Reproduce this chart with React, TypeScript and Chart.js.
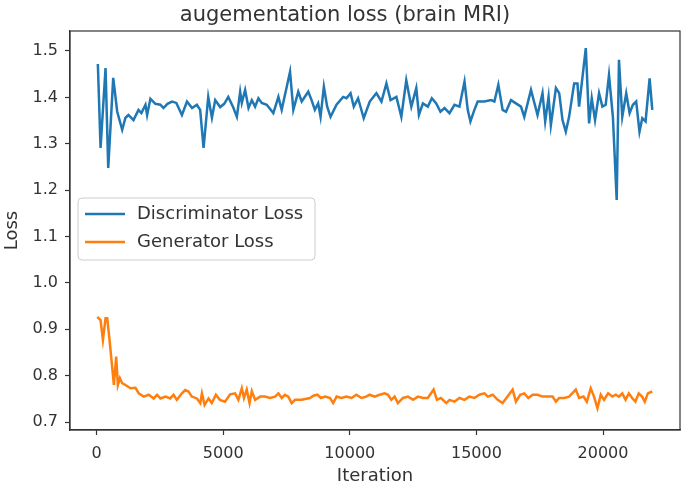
import React, { useEffect, useRef } from "react";
import { Chart, registerables } from "chart.js";

Chart.register(...registerables);

const titleText = "augementation loss (brain MRI)";
const xLabel = "Iteration";
const yLabel = "Loss";
const seriesNames = ["Discriminator Loss", "Generator Loss"];
const xTicks = [0, 5000, 10000, 15000, 20000];
const yTicks = [0.7, 0.8, 0.9, 1.0, 1.1, 1.2, 1.3, 1.4, 1.5];

const discIter = [
  50, 157, 354, 460, 657, 815, 1012, 1140, 1260, 1457, 1654, 1770, 1930, 1995, 2126, 2320, 2520, 2640, 2800, 2980,
  3150, 3370, 3570, 3770, 3960, 4090, 4225, 4410, 4555, 4685, 4880, 5040, 5200, 5390, 5540, 5670, 5735, 5866, 6000, 6130,
  6260, 6390, 6523, 6720, 6980, 7180, 7310, 7640, 7770, 7965, 8100, 8360, 8490, 8620, 8750, 8845, 8976, 9106, 9240, 9475,
  9737, 9870, 10030, 10157, 10327, 10550, 10787, 11050, 11250, 11445, 11610, 11840, 12035, 12230, 12430, 12625, 12730, 12886, 13083, 13240,
  13413, 13580, 13740, 13937, 14134, 14330, 14530, 14657, 14763, 14920, 15050, 15315, 15580, 15710, 15866, 16035, 16170, 16365, 16562, 16760,
  16890, 17155, 17413, 17610, 17716, 17850, 17940, 18140, 18270, 18400, 18530, 18660, 18860, 18990, 19055, 19320, 19450, 19555, 19685, 19843,
  19975, 20105, 20236, 20390, 20540, 20630, 20760, 20917, 21050, 21180, 21310, 21440, 21550, 21680, 21840, 21945,
];
const discLoss = [
  1.472, 1.291, 1.463, 1.248, 1.442, 1.369, 1.33, 1.356, 1.362, 1.351, 1.373, 1.366, 1.384, 1.362, 1.397, 1.386, 1.384, 1.377, 1.386, 1.391,
  1.388, 1.362, 1.391, 1.377, 1.384, 1.373, 1.291, 1.401, 1.356, 1.394, 1.379, 1.386, 1.401, 1.379, 1.358, 1.412, 1.388, 1.416, 1.377, 1.394,
  1.38, 1.398, 1.388, 1.384, 1.366, 1.401, 1.373, 1.455, 1.373, 1.412, 1.391, 1.412, 1.394, 1.373, 1.387, 1.358, 1.423, 1.38, 1.358, 1.384,
  1.401, 1.398, 1.409, 1.38, 1.398, 1.355, 1.391, 1.409, 1.391, 1.43, 1.394, 1.401, 1.358, 1.437, 1.38, 1.42, 1.362, 1.387, 1.38, 1.398,
  1.387, 1.369, 1.377, 1.366, 1.384, 1.38, 1.434, 1.373, 1.348, 1.373, 1.391, 1.391, 1.394, 1.391, 1.427, 1.373, 1.369, 1.394, 1.387, 1.38,
  1.358, 1.416, 1.362, 1.409, 1.348, 1.401, 1.34, 1.42, 1.409, 1.351, 1.326, 1.358, 1.43, 1.43, 1.38, 1.506, 1.344, 1.398, 1.351, 1.409,
  1.38, 1.384, 1.448, 1.358, 1.179, 1.481, 1.358, 1.409, 1.366, 1.384, 1.391, 1.326, 1.355, 1.348, 1.441, 1.373,
];

const genIter = [
  27, 157, 250, 354, 420, 512, 683, 775, 840, 920, 1010, 1140, 1340, 1535, 1665, 1860, 2060, 2255, 2390, 2520,
  2720, 2910, 3040, 3170, 3370, 3500, 3630, 3760, 3960, 4095, 4160, 4265, 4420, 4550, 4710, 4870, 5070, 5275, 5470, 5600,
  5735, 5820, 5930, 6040, 6130, 6260, 6460, 6650, 6850, 7050, 7180, 7310, 7440, 7570, 7705, 7840, 8100, 8430, 8560, 8720,
  8860, 9030, 9220, 9345, 9480, 9670, 9870, 10070, 10260, 10460, 10650, 10785, 10980, 11180, 11375, 11510, 11640, 11770, 11900, 12100,
  12300, 12500, 12690, 12890, 13080, 13310, 13440, 13600, 13810, 13940, 14130, 14330, 14530, 14720, 14920, 15115, 15320, 15450, 15645, 15840,
  16035, 16230, 16430, 16560, 16730, 16890, 17050, 17220, 17415, 17610, 17810, 18010, 18140, 18270, 18470, 18660, 18925, 19055, 19230, 19360,
  19515, 19645, 19780, 19910, 20040, 20200, 20370, 20500, 20630, 20760, 20890, 21020, 21150, 21280, 21410, 21540, 21650, 21770, 21945,
];
const genLoss = [
  0.927, 0.92, 0.877, 0.924, 0.924, 0.877, 0.78, 0.841, 0.78, 0.795, 0.784, 0.78, 0.773, 0.774, 0.762, 0.755, 0.759, 0.751, 0.759, 0.751,
  0.755, 0.751, 0.759, 0.748, 0.762, 0.769, 0.766, 0.755, 0.751, 0.741, 0.762, 0.737, 0.751, 0.741, 0.759, 0.748, 0.744, 0.76, 0.762, 0.748,
  0.773, 0.752, 0.77, 0.741, 0.767, 0.748, 0.755, 0.755, 0.752, 0.755, 0.762, 0.752, 0.759, 0.755, 0.741, 0.748, 0.748, 0.752, 0.757, 0.759,
  0.752, 0.755, 0.752, 0.741, 0.755, 0.752, 0.755, 0.752, 0.759, 0.752, 0.755, 0.759, 0.755, 0.759, 0.762, 0.759, 0.748, 0.755, 0.741, 0.752,
  0.755, 0.748, 0.755, 0.752, 0.752, 0.77, 0.748, 0.752, 0.741, 0.748, 0.744, 0.752, 0.748, 0.755, 0.752, 0.759, 0.762, 0.755, 0.759, 0.748,
  0.741, 0.755, 0.77, 0.744, 0.759, 0.762, 0.752, 0.759, 0.759, 0.755, 0.755, 0.755, 0.744, 0.752, 0.752, 0.755, 0.77, 0.752, 0.755, 0.744,
  0.773, 0.755, 0.73, 0.759, 0.748, 0.762, 0.755, 0.759, 0.755, 0.762, 0.748, 0.762, 0.752, 0.744, 0.762, 0.755, 0.744, 0.762, 0.766,
];

const colors = ["#1f77b4", "#ff7f0e"];
const FONT = "'DejaVu Sans', sans-serif";
const TEXT = "#333333";

const framePlugin = {
  id: "frameAndLegend",
  afterDraw(chart: any) {
    const { ctx, chartArea } = chart;
    const { left, top, right, bottom } = chartArea;
    ctx.save();
    // spines
    ctx.strokeStyle = "#333333";
    ctx.lineWidth = 1.2;
    ctx.strokeRect(left, top, right - left, bottom - top);
    // title
    ctx.fillStyle = TEXT;
    ctx.font = `21px ${FONT}`;
    ctx.textAlign = "center";
    ctx.textBaseline = "alphabetic";
    ctx.fillText(titleText, 345, 21);
    // legend
    const bx = left + 8;
    const by = 198;
    const bw = 237;
    const bh = 62;
    ctx.beginPath();
    const r = 4;
    ctx.moveTo(bx + r, by);
    ctx.lineTo(bx + bw - r, by);
    ctx.quadraticCurveTo(bx + bw, by, bx + bw, by + r);
    ctx.lineTo(bx + bw, by + bh - r);
    ctx.quadraticCurveTo(bx + bw, by + bh, bx + bw - r, by + bh);
    ctx.lineTo(bx + r, by + bh);
    ctx.quadraticCurveTo(bx, by + bh, bx, by + bh - r);
    ctx.lineTo(bx, by + r);
    ctx.quadraticCurveTo(bx, by, bx + r, by);
    ctx.closePath();
    ctx.fillStyle = "rgba(255,255,255,0.8)";
    ctx.fill();
    ctx.strokeStyle = "#cccccc";
    ctx.lineWidth = 1;
    ctx.stroke();
    const rows = [by + 16, by + 44];
    seriesNames.forEach((name, i) => {
      ctx.strokeStyle = colors[i];
      ctx.lineWidth = 2.5;
      ctx.beginPath();
      ctx.moveTo(bx + 7, rows[i]);
      ctx.lineTo(bx + 47, rows[i]);
      ctx.stroke();
      ctx.fillStyle = TEXT;
      ctx.font = `18px ${FONT}`;
      ctx.textAlign = "left";
      ctx.textBaseline = "middle";
      ctx.fillText(name, bx + 59, rows[i]);
    });
    ctx.restore();
  },
};

export default function App() {
  const canvasRef = useRef<HTMLCanvasElement | null>(null);

  useEffect(() => {
    const canvas = canvasRef.current;
    if (!canvas) return;
    const chart = new Chart(canvas, {
      type: "line",
      data: {
        datasets: [
          {
            label: seriesNames[0],
            data: discIter.map((x, i) => ({ x, y: discLoss[i] })),
            borderColor: colors[0],
            backgroundColor: colors[0],
            borderWidth: 2.5,
            pointRadius: 0,
            tension: 0,
            fill: false,
          },
          {
            label: seriesNames[1],
            data: genIter.map((x, i) => ({ x, y: genLoss[i] })),
            borderColor: colors[1],
            backgroundColor: colors[1],
            borderWidth: 2.5,
            pointRadius: 0,
            tension: 0,
            fill: false,
          },
        ],
      },
      options: {
        animation: false,
        responsive: false,
        devicePixelRatio: 1,
        layout: { padding: { top: 31, right: 5, left: 0, bottom: 0 } },
        plugins: {
          legend: { display: false },
          title: { display: false },
          tooltip: { enabled: false },
        },
        scales: {
          x: {
            type: "linear",
            min: -1050,
            max: 23040,
            afterBuildTicks: (s: any) => {
              s.ticks = xTicks.map((v) => ({ value: v }));
            },
            afterFit: (s: any) => {
              s.height = 56;
            },
            ticks: {
              callback: (v: any) => String(v),
              font: { family: FONT, size: 16 },
              color: TEXT,
              padding: 9,
              maxRotation: 0,
              autoSkip: false,
            },
            grid: {
              display: true,
              drawOnChartArea: false,
              drawTicks: true,
              tickLength: 5,
              tickColor: "#333333",
              tickWidth: 1.2,
            },
            border: { display: true, color: "#333333", width: 1.2 },
            title: {
              display: true,
              text: xLabel,
              font: { family: FONT, size: 18 },
              color: TEXT,
              padding: { top: 0, bottom: -1 },
            },
          },
          y: {
            type: "linear",
            min: 0.683,
            max: 1.543,
            afterBuildTicks: (s: any) => {
              s.ticks = yTicks.map((v) => ({ value: v }));
            },
            afterFit: (s: any) => {
              s.width = 70;
            },
            ticks: {
              callback: (v: any) => Number(v).toFixed(1),
              font: { family: FONT, size: 16 },
              color: TEXT,
              padding: 7,
              autoSkip: false,
            },
            grid: {
              display: true,
              drawOnChartArea: false,
              drawTicks: true,
              tickLength: 5,
              tickColor: "#333333",
              tickWidth: 1.2,
            },
            border: { display: true, color: "#333333", width: 1.2 },
            title: {
              display: true,
              text: yLabel,
              font: { family: FONT, size: 18 },
              color: TEXT,
              padding: { top: 2, bottom: 0 },
            },
          },
        },
      },
      plugins: [framePlugin],
    });
    return () => chart.destroy();
  }, []);

  return (
    <div style={{ position: "fixed", left: 0, top: 0, width: 685, height: 486, background: "#ffffff" }}>
      <canvas ref={canvasRef} width={685} height={486} style={{ width: 685, height: 486 }} />
    </div>
  );
}
